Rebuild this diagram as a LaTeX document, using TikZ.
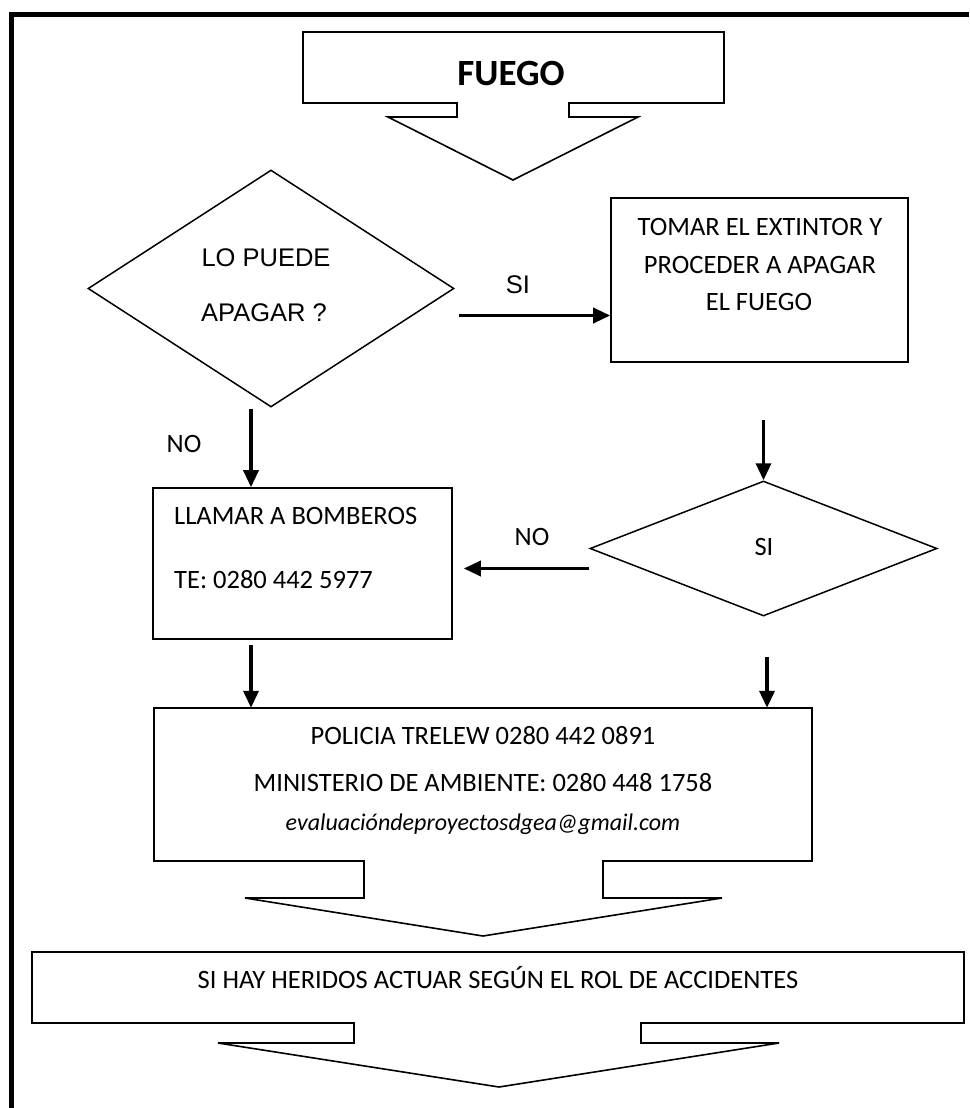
\documentclass[tikz,border=0pt]{standalone}
\usepackage{fontspec}
\setmainfont{Carlito}
\newfontfamily\arialf{Liberation Sans}
\usetikzlibrary{arrows.meta,shapes.geometric,calc}
\begin{document}
\begin{tikzpicture}[x=1pt,y=-1pt,
  outl/.style={draw=black, line width=1.6pt, line join=miter},
  dia/.style={draw=black, line width=1.5pt, shape=diamond, inner sep=0pt},
  boxr/.style={draw=black, line width=1.6pt, rectangle, inner sep=0pt},
  ghost/.style={rectangle, inner sep=0pt},
  frame/.style={draw=black, line width=4.5pt, line join=miter},
  arr/.style={line width=3.5pt, -{Triangle[length=17pt,width=15pt]}},
  txt/.style={font=\fontsize{26.5pt}{30pt}\selectfont, inner sep=0pt, anchor=base},
  atxt/.style={font=\arialf\fontsize{25.5pt}{30pt}\selectfont, inner sep=0pt, anchor=base}]
\useasboundingbox (0,0) rectangle (969,1108);
\fill[white] (0,0) rectangle (969,1108);
% frame
\draw[frame] (11.5,1108) -- (11.5,14.5) -- (969,14.5);

% FUEGO block arrow
\node[ghost, minimum width=421pt, minimum height=71pt] (fuegobox) at (513.5,67.5) {};
\draw[outl] (303,32) -- (724,32) -- (724,103) -- (569,103) -- (569,117) -- (638,117)
  -- (513,180) -- (388,117) -- (457,117) -- (457,103) -- (303,103) -- cycle;
\node[txt, font=\fontsize{37pt}{40pt}\selectfont\bfseries] (fuego) at (511,85) {FUEGO};

% decision 1
\node[dia, minimum width=366pt, minimum height=237pt] (d1) at (271,288.5) {};
\node[atxt] (lp1) at (266,266) {LO PUEDE};
\node[atxt] (lp2) at (264,321) {APAGAR ?};

% TOMAR box
\node[boxr, minimum width=297pt, minimum height=164pt] (tomar) at (759.5,280) {};
\node[txt] (tm1) at (760,235.5) {TOMAR EL EXTINTOR Y};
\node[txt] (tm2) at (760,273.5) {PROCEDER A APAGAR};
\node[txt] (tm3) at (759,310.5) {EL FUEGO};

% LLAMAR box
\node[boxr, minimum width=299pt, minimum height=151pt] (llamar) at (302.5,563.5) {};
\node[txt, anchor=base west] (ll1) at (174,524.5) {LLAMAR A BOMBEROS};
\node[txt, anchor=base west] (ll2) at (174,588.5) {TE: 0280 442 5977};

% decision 2
\node[dia, minimum width=347pt, minimum height=135pt] (d2) at (763.5,548.5) {};
\node[txt] (si2) at (764,555.5) {SI};

% POLICIA block arrow
\node[ghost, minimum width=658pt, minimum height=153pt] (policia) at (483,784.5) {};
\draw[outl] (154,708) -- (812,708) -- (812,861) -- (603,861) -- (603,898) -- (722,898)
  -- (483,936) -- (245,898) -- (364,898) -- (364,861) -- (154,861) -- cycle;
\node[txt] (p1) at (483,744.5) {POLICIA TRELEW 0280 442 0891};
\node[txt] (p2) at (483,791.5) {MINISTERIO DE AMBIENTE: 0280 448 1758};
\node[txt, font=\fontsize{24pt}{28pt}\selectfont\itshape] (p3) at (483,830) {evaluacióndeproyectosdgea@gmail.com};

% SI HAY block arrow
\node[ghost, minimum width=932pt, minimum height=71pt] (heridos) at (498,987.5) {};
\draw[outl] (32,952) -- (964,952) -- (964,1023) -- (641,1023) -- (641,1043) -- (779,1043)
  -- (499,1087) -- (218,1043) -- (354,1043) -- (354,1023) -- (32,1023) -- cycle;
\node[txt] (h1) at (498,988.5) {SI HAY HERIDOS ACTUAR SEGÚN EL ROL DE ACCIDENTES};

% connectors
\draw[arr] ($(d1.east)+(4,27)$) coordinate (siA) -- (siA -| tomar.west);
\node[atxt] (siL) at (518,293) {SI};
\draw[arr] ($(d1.south)+(-20,1)$) coordinate (noA) -- (noA |- llamar.north);
\node[txt] (noL1) at (184,452.5) {NO};
\draw[arr] ($(d2.north)+(0,-60)$) -- (d2.north);
\draw[arr] ($(d2.west)+(0,20)$) coordinate (noB) -- ($(noB -| llamar.east)+(11,0)$);
\node[txt] (noL2) at (532,545.5) {NO};
\draw[arr] ($(llamar.south)+(-51.5,5)$) coordinate (cL) -- (cL |- policia.north);
\draw[arr] ($(d2.south)+(3.5,40)$) coordinate (cR) -- (cR |- policia.north);
\end{tikzpicture}
\end{document}
